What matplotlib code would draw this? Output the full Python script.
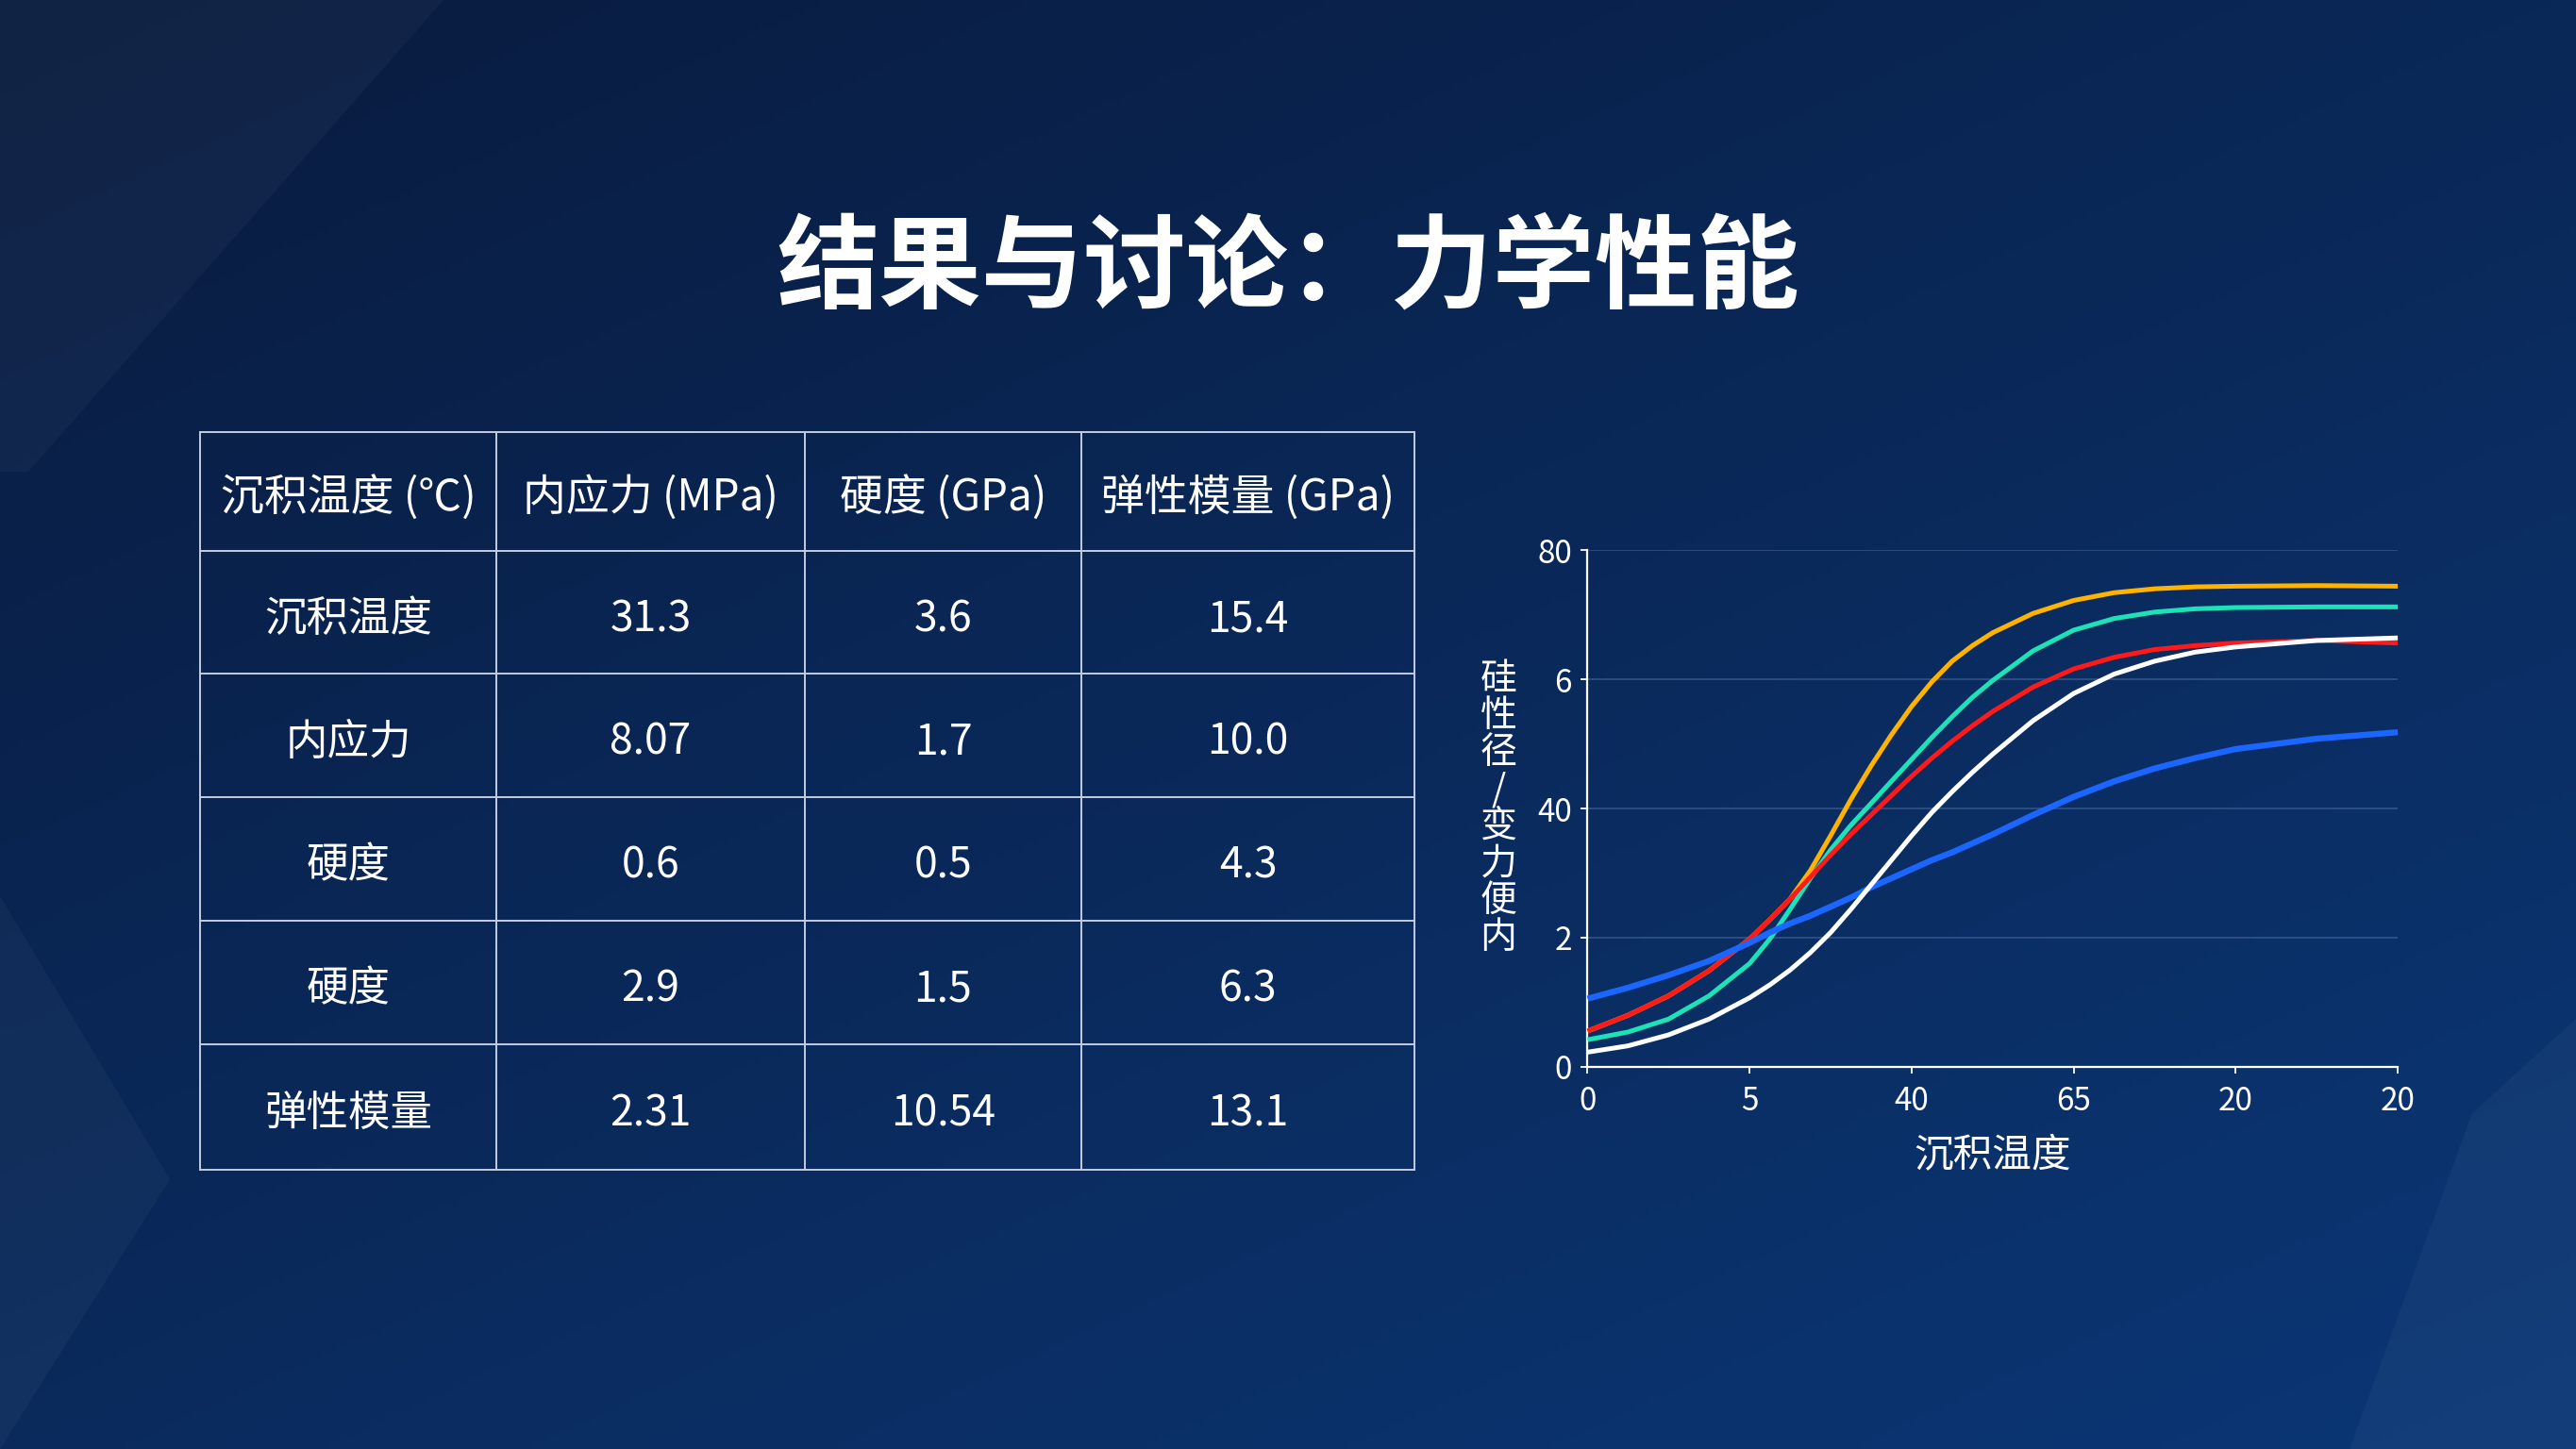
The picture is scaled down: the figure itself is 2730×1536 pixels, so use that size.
import numpy as np
import matplotlib
matplotlib.use("Agg")
import matplotlib.pyplot as plt
from matplotlib.patches import Polygon

plt.rcParams['font.family'] = ['Noto Sans CJK SC', 'DejaVu Sans']

# ---------------------------
# DATA
# ---------------------------
title = "结果与讨论：力学性能"

table_header = ["沉积温度 (℃)", "内应力 (MPa)", "硬度 (GPa)", "弹性模量 (GPa)"]
row_labels = ["沉积温度", "内应力", "硬度", "硬度", "弹性模量"]
col_stress = ["31.3", "8.07", "0.6", "2.9", "2.31"]
col_hard = ["3.6", "1.7", "0.5", "1.5", "10.54"]
col_modulus = ["15.4", "10.0", "4.3", "6.3", "13.1"]

x_tick_labels = ["0", "5", "40", "65", "20", "20"]
y_tick_labels = ["0", "2", "40", "6", "80"]
x_label = "沉积温度"
y_label = "硅性径/变力便内"

# curve samples (x and y in tick-slot units)
x = [0, 0.25, 0.5, 0.75, 1.0, 1.125, 1.25, 1.375, 1.5, 1.625, 1.75, 1.875,
     2.0, 2.125, 2.25, 2.375, 2.5, 2.75, 3.0, 3.25, 3.5, 3.75, 4.0, 4.5, 5.0]
orange = [0.277, 0.40, 0.55, 0.745, 0.99, 1.14, 1.30, 1.52, 1.79, 2.07, 2.33, 2.57,
          2.79, 2.98, 3.14, 3.26, 3.36, 3.51, 3.61, 3.67, 3.70, 3.715, 3.72, 3.725, 3.72]
teal = [0.21, 0.27, 0.37, 0.55, 0.80, 0.99, 1.22, 1.46, 1.68, 1.87, 2.04, 2.21,
        2.38, 2.55, 2.71, 2.86, 2.99, 3.22, 3.38, 3.47, 3.52, 3.545, 3.555, 3.56, 3.56]
red = [0.277, 0.40, 0.55, 0.745, 0.99, 1.14, 1.30, 1.47, 1.64, 1.80, 1.95, 2.10,
       2.25, 2.39, 2.52, 2.64, 2.75, 2.94, 3.08, 3.17, 3.23, 3.26, 3.28, 3.30, 3.28]
white = [0.114, 0.163, 0.248, 0.37, 0.535, 0.635, 0.75, 0.885, 1.04, 1.22, 1.41, 1.60,
         1.79, 1.97, 2.13, 2.28, 2.42, 2.68, 2.89, 3.04, 3.14, 3.21, 3.25, 3.30, 3.32]
blue = [0.528, 0.613, 0.71, 0.82, 0.96, 1.04, 1.11, 1.17, 1.24, 1.31, 1.39, 1.46,
        1.53, 1.60, 1.66, 1.73, 1.80, 1.95, 2.09, 2.21, 2.31, 2.39, 2.46, 2.54, 2.59]

W, H = 2730, 1536
fig = plt.figure(figsize=(27.3, 15.36), dpi=100)

# ---------------------------
# BACKGROUND
# ---------------------------
bg = fig.add_axes([0, 0, 1, 1])
bg.set_xlim(0, W)
bg.set_ylim(H, 0)
bg.axis("off")

gx, gy = np.meshgrid(np.linspace(0, 1, 400), np.linspace(0, 1, 225))
t = np.clip(0.55 * gy + 0.45 * gx, 0, 1)
c0 = np.array([9, 27, 62]) / 255
c1 = np.array([11, 55, 118]) / 255
img = c0 + (c1 - c0) * t[..., None]
bg.imshow(img, extent=[0, W, H, 0], aspect="auto", zorder=0)

for pts in [[(0, 0), (470, 0), (30, 500), (0, 500)],
            [(0, 950), (180, 1250), (0, 1536)],
            [(2730, 1080), (2620, 1180), (2490, 1536), (2730, 1536)]]:
    bg.add_patch(Polygon(pts, closed=True, facecolor="white", alpha=0.035,
                         edgecolor="none", zorder=1))

# ---------------------------
# TITLE
# ---------------------------
bg.text(W / 2, 286, title, ha="center", va="center", color="white",
        fontsize=78, fontweight="bold", zorder=5)

# ---------------------------
# TABLE
# ---------------------------
col_edges = [212, 526, 853, 1146, 1499]
row_edges = [458, 584, 714, 845, 976, 1107, 1240]
line_kw = dict(color="#c4cde0", lw=1.4, zorder=3)
for cx in col_edges:
    bg.plot([cx, cx], [row_edges[0], row_edges[-1]], **line_kw)
for ry in row_edges:
    bg.plot([col_edges[0], col_edges[-1]], [ry, ry], **line_kw)

rows = [table_header] + [[row_labels[i], col_stress[i], col_hard[i], col_modulus[i]]
                         for i in range(len(row_labels))]
for r, row in enumerate(rows):
    yc = (row_edges[r] + row_edges[r + 1]) / 2 + 7
    for c, txt in enumerate(row):
        xc = (col_edges[c] + col_edges[c + 1]) / 2
        bg.text(xc, yc, txt, ha="center", va="center", color="white",
                fontsize=33 if r == 0 else 32, zorder=4)

# ---------------------------
# CHART
# ---------------------------
ax = fig.add_axes([0.6163, 0.2637, 0.3145, 0.3567])
ax.set_facecolor("none")
ax.set_xlim(0, 5)
ax.set_ylim(0, 4)

series = [(orange, "#ffb300", 3.6), (teal, "#1de2b8", 3.6), (red, "#ff1a1a", 3.6),
          (blue, "#1a66ff", 4.6), (white, "#ffffff", 3.6)]
for ys, col, lw in series:
    ax.plot(x, ys, color=col, lw=lw, solid_capstyle="butt",
            solid_joinstyle="round", clip_on=False, zorder=3)

ax.set_xticks(range(len(x_tick_labels)))
ax.set_xticklabels(x_tick_labels)
ax.set_yticks(range(len(y_tick_labels)))
ax.set_yticklabels(y_tick_labels)
ax.tick_params(colors="white", labelsize=24, length=5, width=1.3, pad=7)
ax.tick_params(axis="x", pad=9)

for s in ["top", "right"]:
    ax.spines[s].set_visible(False)
for s in ["left", "bottom"]:
    ax.spines[s].set_color("white")
    ax.spines[s].set_linewidth(1.6)

for gyv in range(1, len(y_tick_labels)):
    ax.axhline(gyv, color="#6f8fc4", alpha=0.35, lw=1.3, zorder=1)

ax.set_xlabel(x_label, color="white", fontsize=30, labelpad=14)

fig.text(1588 / W, 1 - 857 / H, "\n".join(y_label), ha="center", va="center",
         color="white", fontsize=28, linespacing=0.97)

plt.savefig("out.png", dpi=100, facecolor=fig.get_facecolor())
